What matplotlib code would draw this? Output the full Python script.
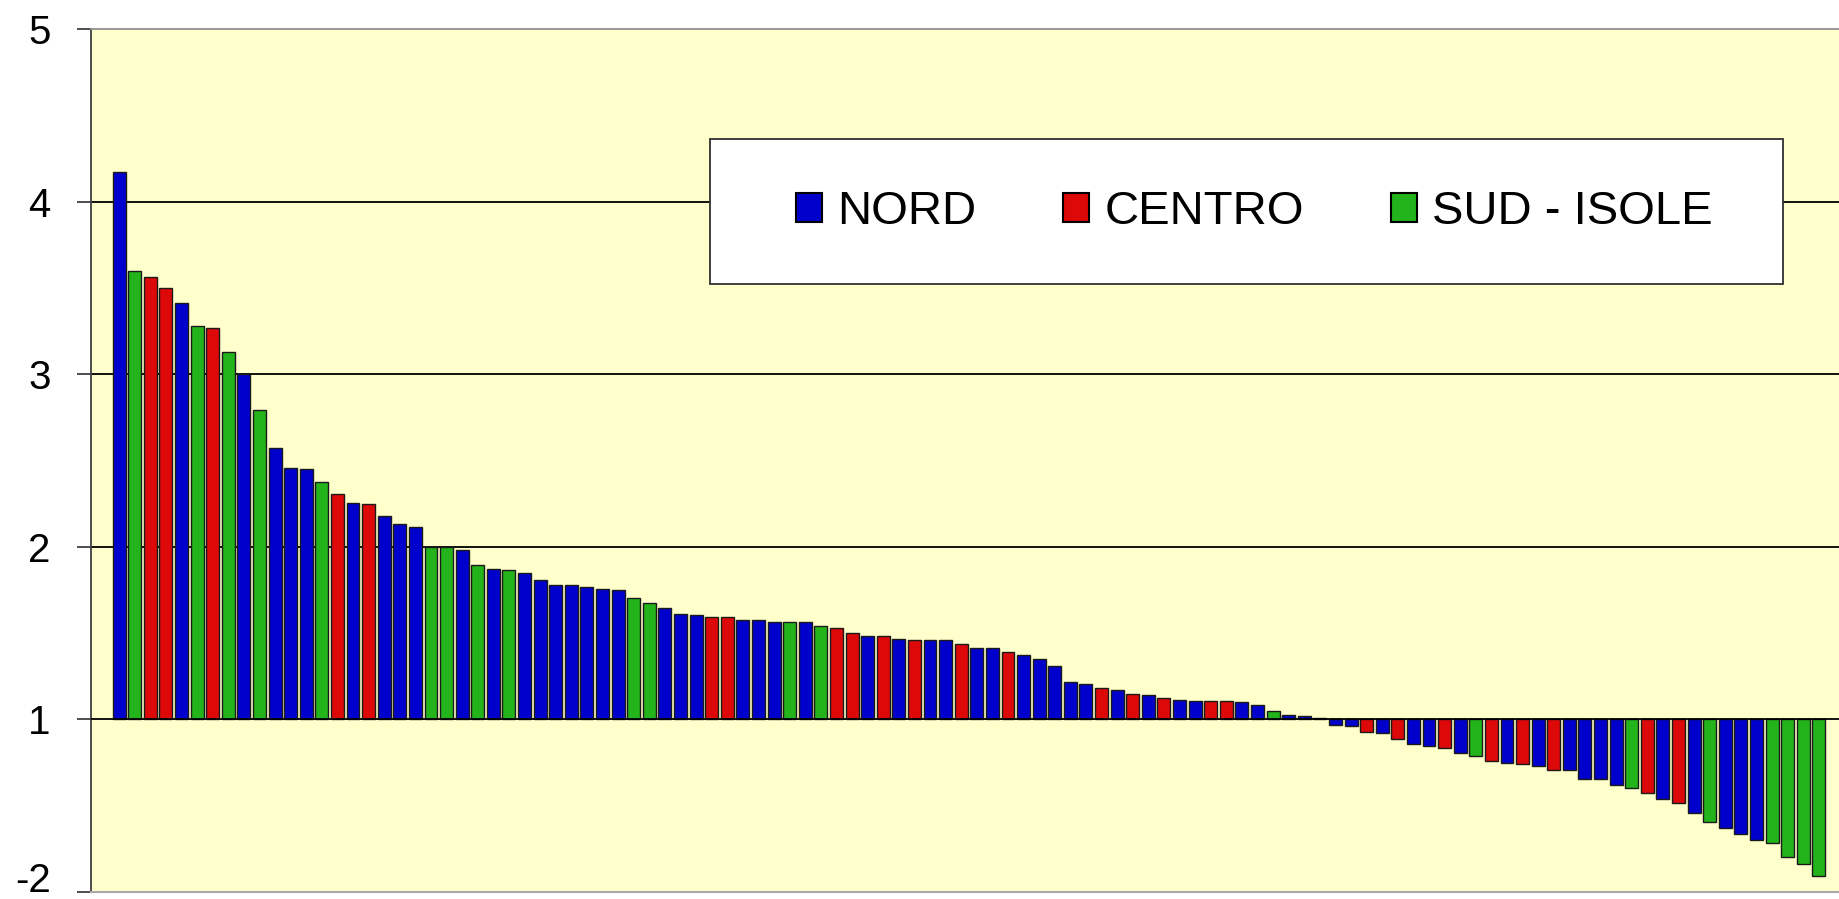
import matplotlib
matplotlib.use('Agg')
import matplotlib.pyplot as plt
from matplotlib.patches import Patch, Rectangle

# bar heights read on the chart's own scale (bars start from the "1" line)
values = [4.17, 3.60, 3.565, 3.50, 3.415, 3.28, 3.27, 3.13, 3.00, 2.79,
          2.57, 2.455, 2.45, 2.375, 2.305, 2.255, 2.25, 2.175, 2.13, 2.115,
          2.00, 2.00, 1.98, 1.895, 1.87, 1.865, 1.845, 1.807, 1.777, 1.777,
          1.767, 1.757, 1.748, 1.70, 1.676, 1.644, 1.612, 1.604, 1.595, 1.595,
          1.572, 1.572, 1.564, 1.562, 1.564, 1.539, 1.531, 1.50, 1.483, 1.483,
          1.467, 1.46, 1.46, 1.46, 1.436, 1.411, 1.411, 1.388, 1.37, 1.346,
          1.307, 1.218, 1.202, 1.178, 1.172, 1.147, 1.139, 1.121, 1.114, 1.106,
          1.105, 1.105, 1.098, 1.082, 1.049, 1.025, 1.016, 1.009, 0.968, 0.958,
          0.927, 0.919, 0.888, 0.854, 0.846, 0.831, 0.806, 0.784, 0.756, 0.747,
          0.741, 0.731, 0.708, 0.708, 0.652, 0.652, 0.621, 0.603, 0.571, 0.538,
          0.516, 0.458, 0.404, 0.369, 0.337, 0.298, 0.282, 0.201, 0.161, 0.089]

# area of each bar: N = NORD, C = CENTRO, S = SUD - ISOLE
regions = list('NSCCNSCSNSNNNSCNCNNNSSNSNSNNNNNNN'
               'SSNNNCCNNNSNSCCNCNCNNCNNCNNNNNCN'
               'CNCNNCCNNSNNN'
               'NNCNCNNCNSCNCNCNNNNSCNCNSNNNSSSS')

baseline = 1
tick_labels = ['-2', '1', '2', '3', '4', '5']
legend_names = ['NORD', 'CENTRO', 'SUD - ISOLE']
colors = {'N': '#0000CC', 'C': '#DD0808', 'S': '#22B41A'}

plt.rcParams['font.family'] = ['Liberation Sans', 'DejaVu Sans']

fig = plt.figure(figsize=(18.39, 8.99), dpi=100)
ax = fig.add_axes([0.0495, 0.0081, 0.9505, 0.9596])
ax.set_facecolor('#FFFFCC')

x = range(len(values))
heights = [v - baseline for v in values]
ax.bar(x, heights, bottom=baseline, width=0.83,
       color=[colors[r] for r in regions], edgecolor='#1a1a1a', linewidth=1.0, zorder=3)

ax.set_xlim(-1.80, 110.29)
ax.set_ylim(0, 5)
ax.set_yticks(range(len(tick_labels)))
ax.set_yticklabels(tick_labels, fontsize=29)
ax.set_xticks([])

# gridlines
for g in [1, 2, 3, 4]:
    ax.axhline(g, color='black', linewidth=1.3, zorder=2 if g > 1 else 4)

ax.tick_params(axis='y', length=10, width=1.3, color='#404040', pad=19)
ax.spines['left'].set_color('#404040')
ax.spines['left'].set_linewidth(1.3)
ax.spines['top'].set_color('#909090')
ax.spines['top'].set_linewidth(1.3)
ax.spines['bottom'].set_color('#a8a8a8')
ax.spines['bottom'].set_linewidth(1.5)
ax.spines['right'].set_visible(False)

# bottom label sits on its tick so it stays inside the picture
ax.yaxis.get_major_ticks()[0].label1.set_verticalalignment('baseline')

# legend box
box = Rectangle((709.5 / 1839, 1 - 284 / 899), (1783 - 709.5) / 1839, (284 - 139) / 899,
                transform=fig.transFigure, facecolor='white', edgecolor='#303030',
                linewidth=1.3, zorder=5)
fig.patches.append(box)

handles = [Patch(facecolor=colors[k], edgecolor='black', linewidth=1.5) for k in 'NCS']
leg = fig.legend(handles, legend_names, loc='center', bbox_to_anchor=(1254.5 / 1839, 1 - 212 / 899),
                 ncol=3, frameon=False, fontsize=34, handlelength=0.55, handleheight=0.57,
                 handletextpad=0.32, columnspacing=1.84, borderpad=0)
leg.set_zorder(6)

plt.savefig('out.png', dpi=100)
